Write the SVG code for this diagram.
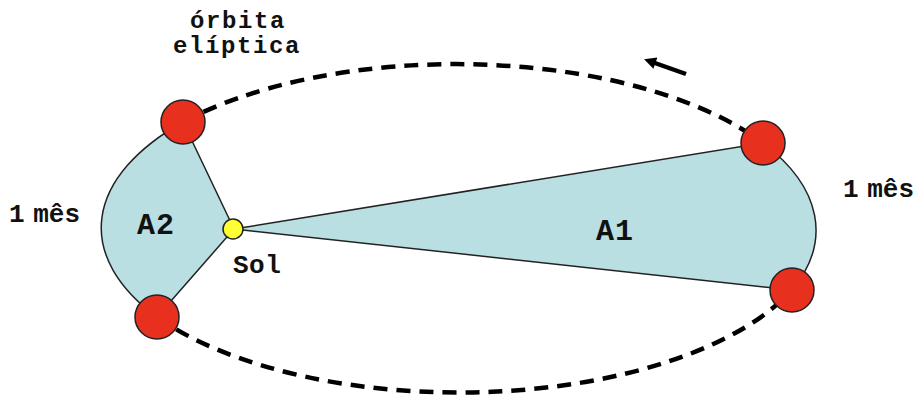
<svg xmlns="http://www.w3.org/2000/svg" width="914" height="399" viewBox="0 0 914 399">
<style>
text{font-family:"Liberation Mono","Courier New",monospace;font-weight:bold;fill:#111}
.orbit{fill:none;stroke:#000;stroke-width:4.5;stroke-dasharray:14 9}
.area{fill:#b9dfe2;stroke:#222;stroke-width:1.5}
.planet{fill:#e8301f;stroke:#222;stroke-width:1.5}
.sun{fill:#ffff33;stroke:#222;stroke-width:1.5}
.lbl{font-size:24px;letter-spacing:1.6px}
.mes{font-size:26px;word-spacing:-7px}
.big{font-size:30px;letter-spacing:1px}
</style>
<defs>
<marker id="ah" viewBox="0 0 10 10" refX="3" refY="5" markerUnits="userSpaceOnUse" markerWidth="14" markerHeight="12" orient="auto">
<path d="M0,0 L10,5 L0,10 Z" fill="#000"/>
</marker>
</defs>
<g id="areas">
<path id="A2-area" class="area" d="M234,229 L183,122 A361,167 0 0,0 157,317 Z"/>
<path id="A1-area" class="area" d="M234,229 L763,143 A361,167 0 0,1 792,290 Z"/>
</g>
<g id="connectors">
<path class="orbit" d="M183,122 A361,167 0 0,1 763,143"/>
<path class="orbit" d="M157,317 A361,167 0 0,0 792,290"/>
<path d="M686,74 L652,62" stroke="#000" stroke-width="4.5" fill="none" marker-end="url(#ah)"/>
</g>
<g id="planet-tl"><circle class="planet" cx="183" cy="122" r="22"/></g>
<g id="planet-tr"><circle class="planet" cx="763" cy="143" r="22"/></g>
<g id="planet-br"><circle class="planet" cx="792" cy="290" r="22"/></g>
<g id="planet-bl"><circle class="planet" cx="157" cy="317" r="22"/></g>
<g id="sun"><circle class="sun" cx="233" cy="229" r="10"/>
<text x="233" y="273" style="font-size:26px;letter-spacing:0.5px">Sol</text></g>
<g id="labels">
<text class="lbl" x="238" y="28" text-anchor="middle">órbita</text>
<text class="lbl" x="237" y="53" text-anchor="middle">elíptica</text>
<text class="mes" x="9" y="222">1 mês</text>
<text class="mes" x="843" y="197">1 mês</text>
<text class="big" x="137" y="234">A2</text>
<text class="big" x="596" y="240">A1</text>
</g>
</svg>
